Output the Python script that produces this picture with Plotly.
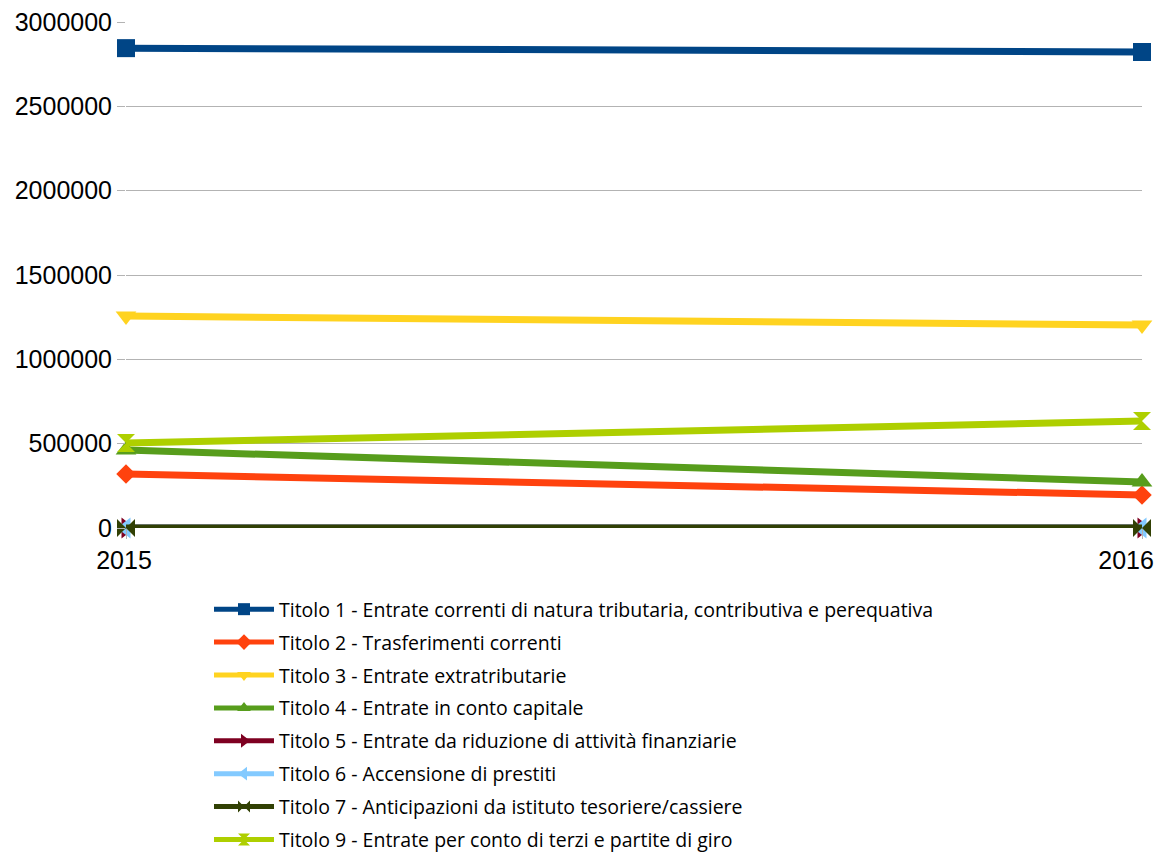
import plotly.graph_objects as go

years = [2015, 2016]
year_labels = ["2015", "2016\u2007\u2007"]
names = [
    "Titolo 1 - Entrate correnti di natura tributaria, contributiva e perequativa",
    "Titolo 2 - Trasferimenti correnti",
    "Titolo 3 - Entrate extratributarie",
    "Titolo 4 - Entrate in conto capitale",
    "Titolo 5 - Entrate da riduzione di attività finanziarie",
    "Titolo 6 - Accensione di prestiti",
    "Titolo 7 - Anticipazioni da istituto tesoriere/cassiere",
    "Titolo 9 - Entrate per conto di terzi e partite di giro",
]
t1 = [2845000, 2822000]
t2 = [320000, 196000]
t3 = [1257000, 1203000]
t4 = [462000, 273000]
t5 = [0, 0]
t6 = [0, 0]
t7 = [0, 0]
t9 = [504000, 634000]
series = [t1, t2, t3, t4, t5, t6, t7, t9]
colors = ["#004586", "#ff420e", "#ffd320", "#579d1c", "#7e0021", "#83caff", "#314004", "#aecf00"]
symbols = ["square", "diamond", "triangle-down", "triangle-up", "triangle-right",
           "triangle-left", "bowtie", "hourglass"]
sizes = [18, 15, 18, 18, 18, 18, 18, 18]

W, H = 1148, 845

fig = go.Figure()
for i, (n, s) in enumerate(zip(names, series)):
    fig.add_trace(go.Scatter(
        x=years, y=s, name=n, mode="lines+markers",
        line=dict(color=colors[i], width=7),
        marker=dict(symbol=symbols[i], size=sizes[i], color=colors[i]),
        cliponaxis=False, legendgroup=str(i),
    ))

fig.update_layout(
    width=W, height=H,
    margin=dict(l=118, r=14, t=14, b=325, autoexpand=False),
    plot_bgcolor="white", paper_bgcolor="white",
    font=dict(family="Liberation Sans", color="#000000"),
    showlegend=True,
    legend=dict(
        xref="container", yref="container",
        x=201 / W, y=1 - 582 / H, xanchor="left", yanchor="top",
        font=dict(family="Open Sans", size=19.5, color="#000000"),
        tracegroupgap=4.55, itemwidth=60, itemsizing="constant",
    ),
    xaxis=dict(
        range=[2015, 2016], tickvals=years, ticktext=year_labels,
        showgrid=True, gridcolor="#b3b3b3", gridwidth=1,
        showline=False, zeroline=False, automargin=False,
        ticks="outside", ticklen=10, tickcolor="#b3b3b3",
        ticklabeloverflow="allow", ticklabelshift=-2,
        tickfont=dict(size=25, family="Liberation Sans"),
    ),
    yaxis=dict(
        range=[0, 3000000], dtick=500000, tickformat="d",
        showgrid=True, gridcolor="#b3b3b3", gridwidth=1,
        zeroline=False, showline=False, automargin=False,
        ticks="outside", ticklen=8, tickcolor="#b3b3b3",
        ticklabeloverflow="allow",
        tickfont=dict(size=25, family="Liberation Sans"),
    ),
)

fig.write_html("out.html")
